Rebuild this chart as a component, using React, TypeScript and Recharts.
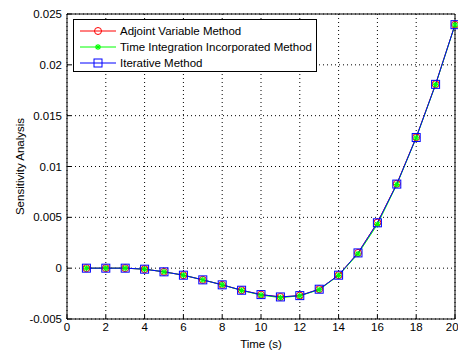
import {
  LineChart, Line, XAxis, YAxis, CartesianGrid, Legend, ReferenceLine,
} from 'recharts';

const times = [1, 2, 3, 4, 5, 6, 7, 8, 9, 10, 11, 12, 13, 14, 15, 16, 17, 18, 19, 20];
const adjoint = [0, 0, 0, -0.0001, -0.00036, -0.00069, -0.00115, -0.00164, -0.00217, -0.0026, -0.00283, -0.0027, -0.00207, -0.00069, 0.0015, 0.00448, 0.0083, 0.01288, 0.0181, 0.02395];
const timeIntegration = [0, 0, 0, -0.0001, -0.00036, -0.00069, -0.00115, -0.00164, -0.00219, -0.00265, -0.0029, -0.00272, -0.00212, -0.00072, 0.0014, 0.0043, 0.00822, 0.01282, 0.01805, 0.02392];
const iterative = [0, 0, 0, -0.0001, -0.00036, -0.00069, -0.00115, -0.00164, -0.00217, -0.0026, -0.00283, -0.0027, -0.00207, -0.00069, 0.0015, 0.00446, 0.00827, 0.01285, 0.01808, 0.02395];
const xTicks = [0, 2, 4, 6, 8, 10, 12, 14, 16, 18, 20];
const yTicks = [-0.005, 0, 0.005, 0.01, 0.015, 0.02, 0.025];

const seriesNames = ['Adjoint Variable Method', 'Time Integration Incorporated Method', 'Iterative Method'];

const data = times.map((t, i) => ({
  t,
  adjoint: adjoint[i],
  timeIntegration: timeIntegration[i],
  iterative: iterative[i],
}));

const FONT = '"Liberation Sans", Arial, sans-serif';

function CircleMarker({ cx, cy }: any) {
  if (cx == null || cy == null) return null;
  return <circle cx={cx} cy={cy} r={3.5} fill="none" stroke="#ff0000" strokeWidth={1} />;
}

function StarMarker({ cx, cy }: any) {
  if (cx == null || cy == null) return null;
  const s = 3;
  return (
    <g stroke="#00ff00" strokeWidth={1.2}>
      <line x1={cx - s} y1={cy} x2={cx + s} y2={cy} />
      <line x1={cx} y1={cy - s} x2={cx} y2={cy + s} />
      <line x1={cx - 2.2} y1={cy - 2.2} x2={cx + 2.2} y2={cy + 2.2} />
      <line x1={cx - 2.2} y1={cy + 2.2} x2={cx + 2.2} y2={cy - 2.2} />
    </g>
  );
}

function SquareMarker({ cx, cy }: any) {
  if (cx == null || cy == null) return null;
  return <rect x={cx - 4} y={cy - 4} width={8} height={8} fill="none" stroke="#0000ff" strokeWidth={1} />;
}

const markers = [CircleMarker, StarMarker, SquareMarker];
const colors = ['#ff0000', '#00ff00', '#0000ff'];

function LegendBox() {
  return (
    <div
      style={{
        border: '1px solid #000',
        background: '#fff',
        width: 244,
        height: 53,
        boxSizing: 'border-box',
        padding: '3px 0 0 0',
        fontFamily: FONT,
        fontSize: 11.5,
      }}
    >
      {seriesNames.map((name, i) => {
        const M = markers[i];
        return (
          <div key={name} style={{ display: 'flex', alignItems: 'center', height: 16 }}>
            <svg width={46} height={16} style={{ display: 'block' }}>
              <line x1={6} y1={8} x2={42} y2={8} stroke={colors[i]} strokeWidth={1} />
              <M cx={24} cy={8} />
            </svg>
            <span style={{ color: '#000' }}>{name}</span>
          </div>
        );
      })}
    </div>
  );
}

export default function App() {
  return (
    <div style={{ position: 'absolute', left: 0, top: 0, width: 458, height: 353, background: '#fff' }}>
      <LineChart
        width={458}
        height={353}
        data={data}
        margin={{ top: 14, right: 3, left: 0, bottom: 0 }}
        style={{ fontFamily: FONT }}
      >
        <CartesianGrid stroke="#000" strokeDasharray="1 3" />
        <XAxis
          dataKey="t"
          type="number"
          domain={[0, 20]}
          ticks={xTicks}
          height={34}
          tickSize={-4}
          tickMargin={8}
          stroke="#000"
          tick={{ fill: '#000', fontSize: 11.5 }}
          label={{ value: 'Time (s)', position: 'insideBottom', offset: 5, fill: '#000', fontSize: 11.5 }}
        />
        <XAxis
          xAxisId="top"
          orientation="top"
          type="number"
          domain={[0, 20]}
          ticks={xTicks}
          height={0}
          tickSize={-4}
          tick={false}
          stroke="#000"
        />
        <YAxis
          type="number"
          domain={[-0.005, 0.025]}
          ticks={yTicks}
          width={67}
          tickSize={-4}
          tickMargin={9}
          stroke="#000"
          tick={{ fill: '#000', fontSize: 11.5 }}
          tickFormatter={(v: number) => String(Number(v.toFixed(4)))}
          label={{ value: 'Sensitivity Analysis', angle: -90, position: 'insideLeft', offset: 20, fill: '#000', fontSize: 11.5, style: { textAnchor: 'middle' } }}
        />
        <YAxis
          yAxisId="right"
          orientation="right"
          type="number"
          domain={[-0.005, 0.025]}
          ticks={yTicks}
          width={0}
          tickSize={-4}
          tick={false}
          stroke="#000"
        />
        <ReferenceLine x={20} stroke="#000" />
        <ReferenceLine y={0.025} stroke="#000" />
        <Legend
          layout="vertical"
          align="center"
          verticalAlign="middle"
          wrapperStyle={{ position: 'absolute', left: 73, top: 19, width: 244 }}
          content={() => <LegendBox />}
        />
        <Line
          dataKey="adjoint"
          stroke="#ff0000"
          strokeWidth={1}
          dot={<CircleMarker />}
          activeDot={false}
          isAnimationActive={false}
          name={seriesNames[0]}
        />
        <Line
          dataKey="timeIntegration"
          stroke="#00ff00"
          strokeWidth={1}
          dot={<StarMarker />}
          activeDot={false}
          isAnimationActive={false}
          name={seriesNames[1]}
        />
        <Line
          dataKey="iterative"
          stroke="#0000ff"
          strokeWidth={1}
          dot={<SquareMarker />}
          activeDot={false}
          isAnimationActive={false}
          name={seriesNames[2]}
        />
      </LineChart>
    </div>
  );
}
